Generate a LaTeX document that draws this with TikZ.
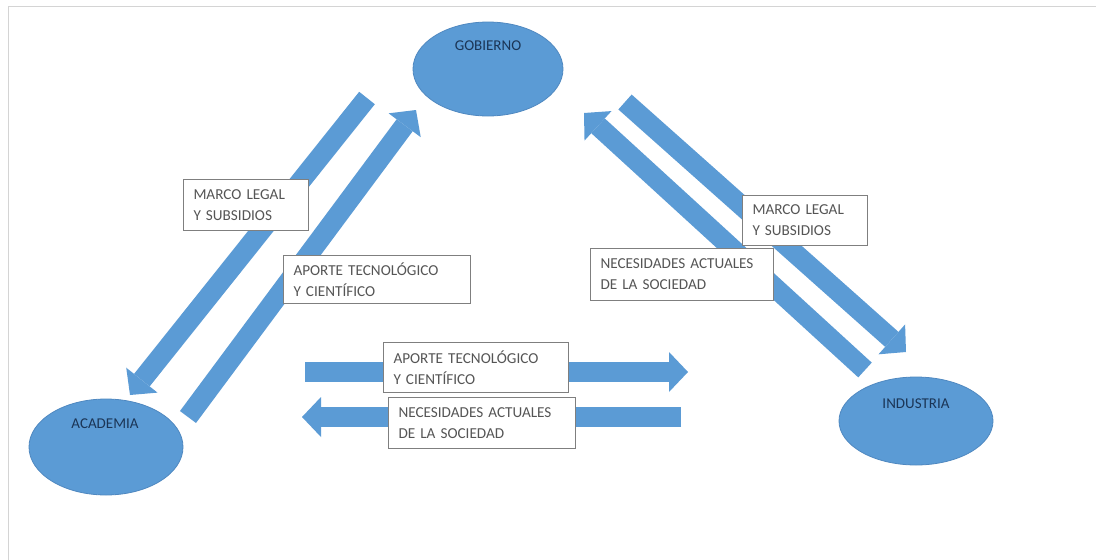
\documentclass[tikz,border=0pt]{standalone}
\usepackage{fontspec}
\setmainfont{Carlito}
\usetikzlibrary{arrows.meta,shapes.geometric}
\definecolor{blk}{HTML}{5B9BD5}
\definecolor{blkline}{HTML}{4F88C0}
\definecolor{ttxt}{HTML}{1B3556}
\definecolor{btxt}{HTML}{555555}
\definecolor{bbord}{HTML}{7F7F7F}
\definecolor{framecol}{HTML}{D4D4D4}
\begin{document}
\begin{tikzpicture}[x=1pt,y=-1pt,
  actor/.style={ellipse, fill=blk, draw=blkline, line width=0.8pt, inner sep=0pt},
  actortext/.style={font=\fontsize{15}{18}\selectfont, text=ttxt, inner sep=0pt},
  bigarrow/.style={draw=blk, line width=20pt, -{Triangle[width=40pt,length=19pt,line width=0pt]}},
  labelbox/.style={draw=bbord, fill=white, line width=1pt, anchor=north west,
    align=left, inner xsep=10pt, inner ysep=0pt, text=btxt,
    font=\fontsize{15.2}{21}\selectfont}
]
\fill[white] (0,0) rectangle (1096,560);
\useasboundingbox (0,0) rectangle (1096,560);
\draw[framecol, line width=1pt] (8,560) -- (8,6) -- (1096,6);

% arrow end points
\coordinate (mlLtail) at (367,98);
\coordinate (mlLtip)  at (130,395);
\coordinate (apLtail) at (188,417);
\coordinate (apLtip)  at (416,110);
\coordinate (neRtail) at (865,370);
\coordinate (neRtip)  at (584,113);
\coordinate (mlRtail) at (625,102);
\coordinate (mlRtip)  at (906,352);
\coordinate (apMtail) at (305,372);
\coordinate (apMtip)  at (688,372);
\coordinate (neMtail) at (681,417);
\coordinate (neMtip)  at (302,417);

\draw[bigarrow] (mlLtail) -- (mlLtip);
\draw[bigarrow] (apLtail) -- (apLtip);
\draw[bigarrow] (neRtail) -- (neRtip);
\draw[bigarrow] (mlRtail) -- (mlRtip);
\draw[bigarrow] (apMtail) -- (apMtip);
\draw[bigarrow] (neMtail) -- (neMtip);

% actors
\node[actor, minimum width=150pt, minimum height=94pt] (gob) at (488,69) {};
\node[actor, minimum width=154pt, minimum height=96pt] (aca) at (106,447) {};
\node[actor, minimum width=154pt, minimum height=88pt] (ind) at (916,421) {};
\node[actortext] (gobt) at (488,46) {GOBIERNO};
\node[actortext] (acat) at (105,424) {ACADEMIA};
\node[actortext] (indt) at (916,404) {INDUSTRIA};

% labels
\node[labelbox, text width=105pt, minimum height=51pt] (mlL) at (183,179) {\mbox{MARCO LEGAL}\\\mbox{Y SUBSIDIOS}};
\node[labelbox, text width=167pt, minimum height=48pt] (apL) at (283,255) {\mbox{APORTE TECNOLÓGICO}\\\mbox{Y CIENTÍFICO}};
\node[labelbox, text width=105pt, minimum height=50pt] (mlR) at (742,195) {\mbox{MARCO LEGAL}\\\mbox{Y SUBSIDIOS}};
\node[labelbox, text width=163pt, minimum height=52pt] (neR) at (590,248) {\mbox{NECESIDADES ACTUALES}\\\mbox{DE LA SOCIEDAD}};
\node[labelbox, text width=165pt, minimum height=50pt] (apM) at (383,342) {\mbox{APORTE TECNOLÓGICO}\\\mbox{Y CIENTÍFICO}};
\node[labelbox, text width=167pt, minimum height=51pt] (neM) at (388,397) {\mbox{NECESIDADES ACTUALES}\\\mbox{DE LA SOCIEDAD}};
\end{tikzpicture}
\end{document}
